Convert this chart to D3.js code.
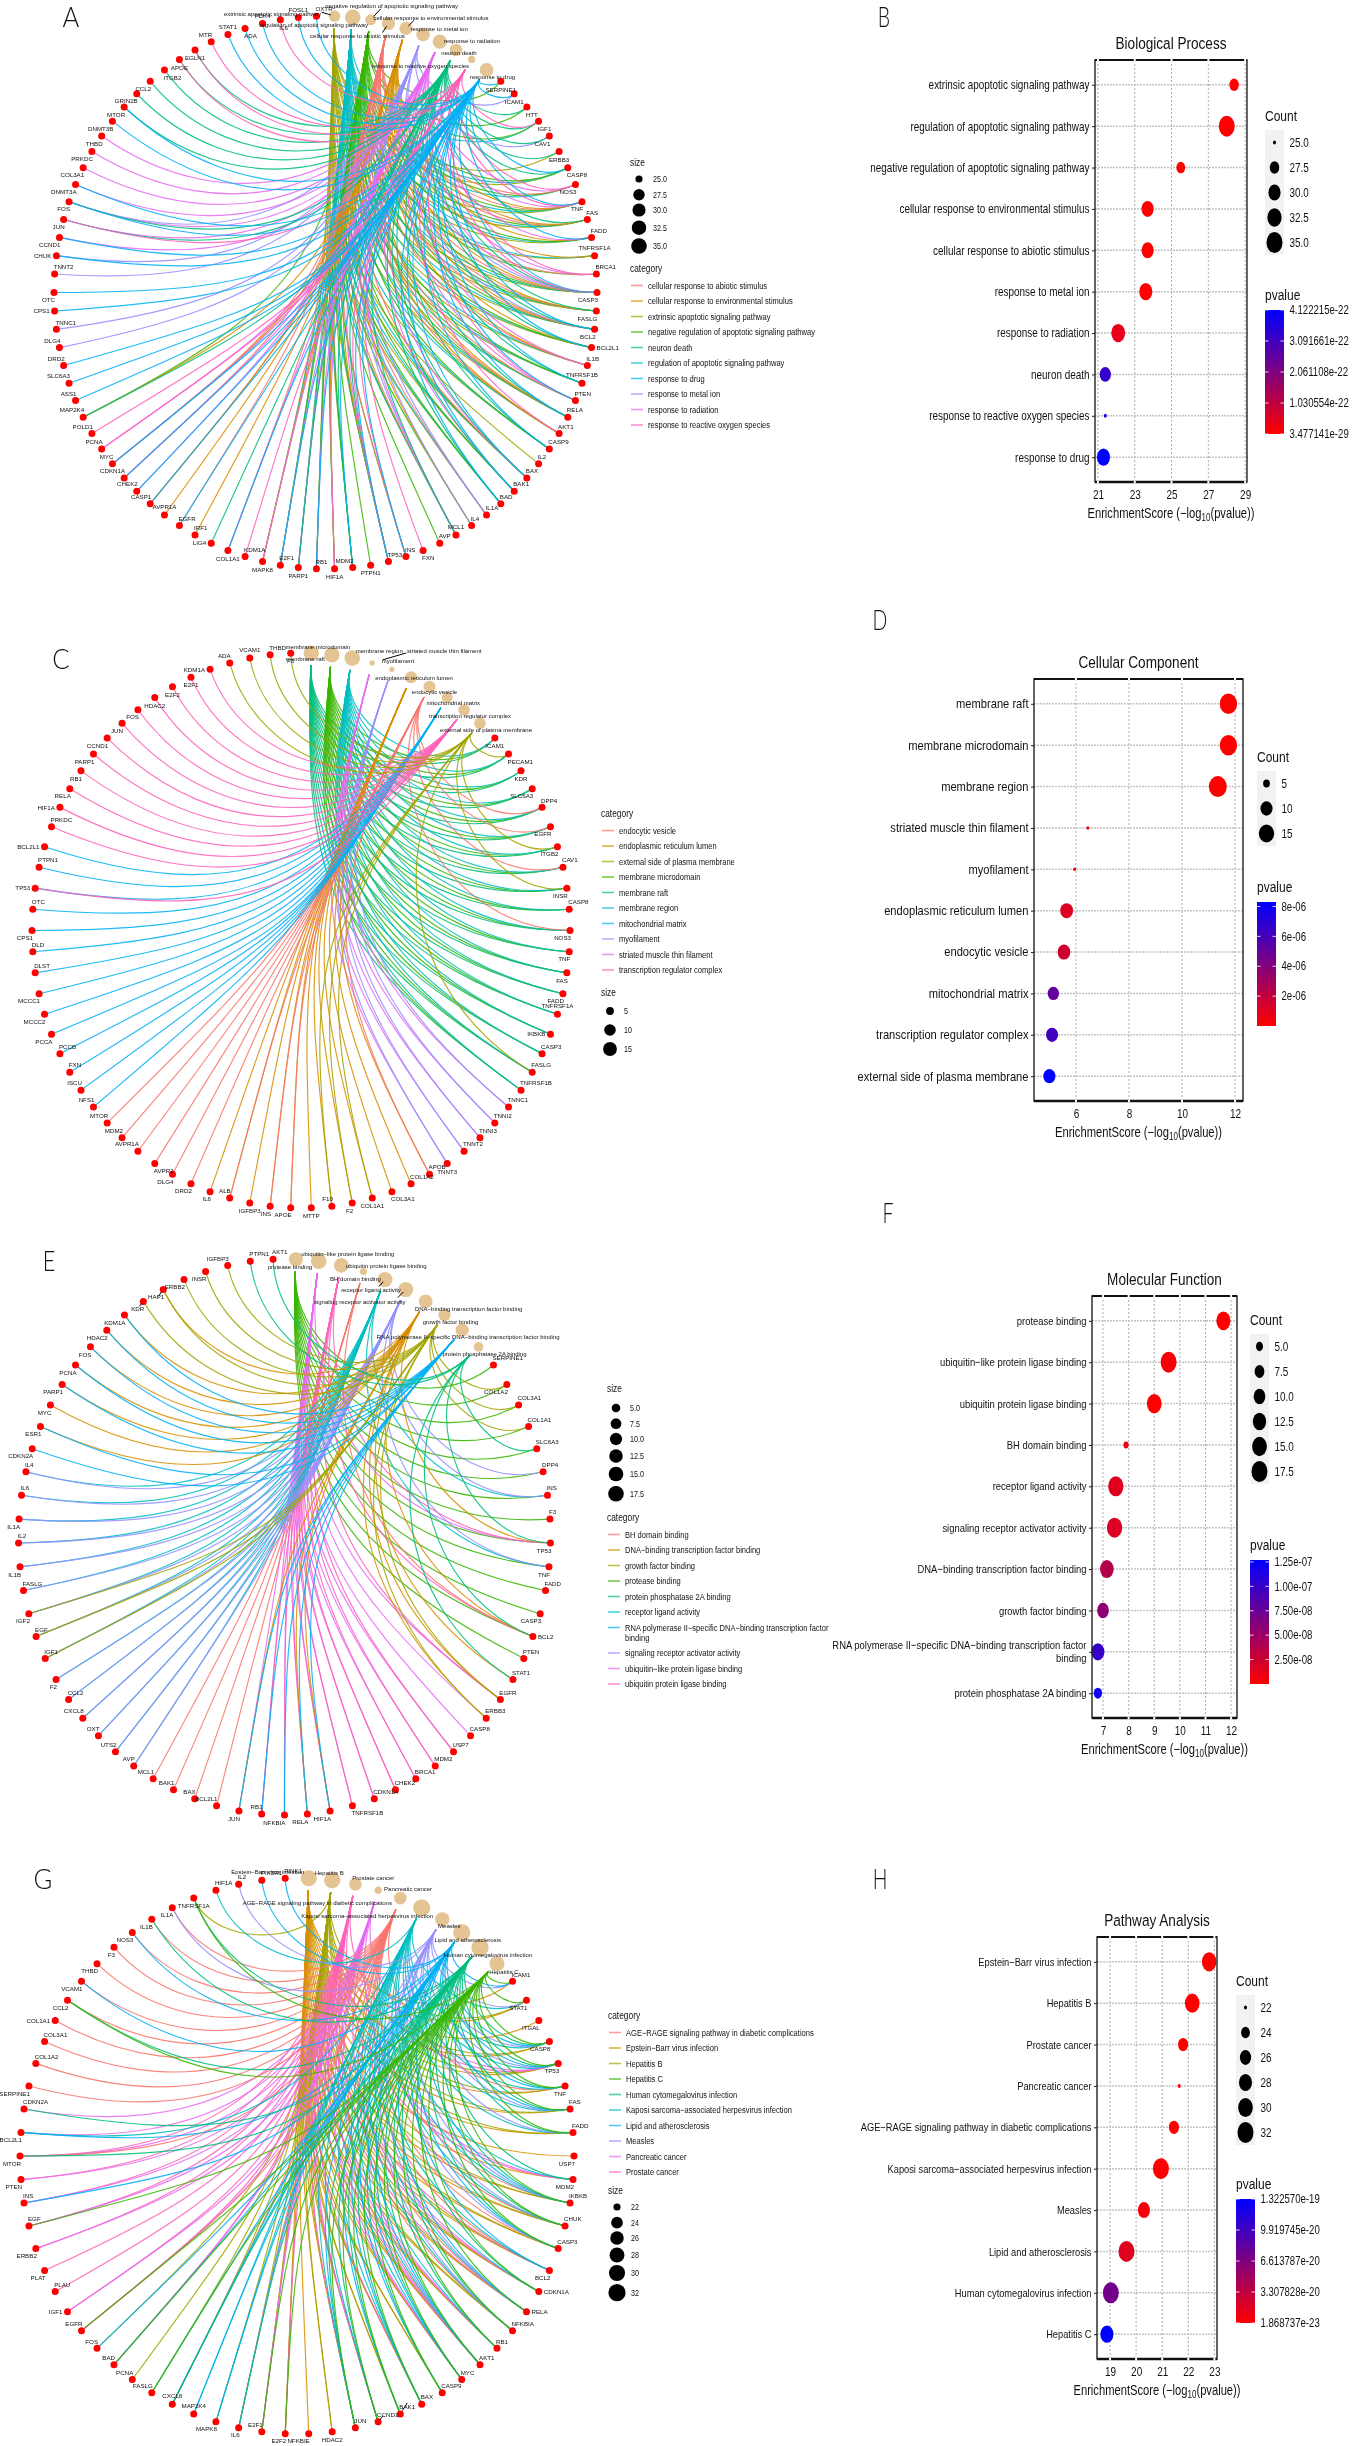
<!DOCTYPE html>
<html><head><meta charset="utf-8">
<script src="https://cdn.jsdelivr.net/npm/d3@7"></script>
<style>
html,body{margin:0;padding:0;background:#fff}
svg{display:block;filter:blur(.3px)}
text{font-family:"Liberation Sans",Arial,sans-serif;fill:#111}
</style></head><body>
<svg id="c" width="1356" height="2446"></svg>
<script>
// ---------- Panel A data ----------
const termsA=["extrinsic apoptotic signaling pathway","regulation of apoptotic signaling pathway","negative regulation of apoptotic signaling pathway","cellular response to abiotic stimulus","cellular response to environmental stimulus","response to metal ion","response to radiation","neuron death","response to reactive oxygen species","response to drug"];
const termHueA=[2,5,3,0,1,7,8,4,9,6];
const termCountA=[27.5,35,27,30,30,31,32,29,25,31];
const genesA=["SERPINE1","ICAM1","HTT","IGF1","CAV1","ERBB3","CASP8","NOS3","TNF","FAS","FADD","TNFRSF1A","BRCA1","CASP3","FASLG","BCL2","BCL2L1","IL1B","TNFRSF1B","PTEN","RELA","AKT1","CASP9","IL2","BAX","BAK1","BAD","IL1A","IL4","MCL1","AVP","FXN","INS","TP53","PTPN1","MDM2","HIF1A","RB1","PARP1","E2F1","MAPK8","KDM1A","COL1A1","LIG4","IRF1","EGFR","AVPR1A","CASP1","CHEK2","CDKN1A","MYC","PCNA","POLD1","MAP2K4","ASS1","SLC6A3","DRD2","DLG4","TNNC1","CPS1","OTC","TNNT2","CHUK","CCND1","JUN","FOS","DNMT3A","COL3A1","PRKDC","THBD","DNMT3B","MTOR","GRIN2B","CCL2","ITGB2","APOE","EGLN1","MTR","STAT1","ADA","PDK4","IL6","FOSL1","OXTR"];
const linksA=["29","59","27","1278","57","07","01279","12368","01234689","012347","012469","014","2368","0123456789","012347","01234579","012479","01346","01279","123689","0123479","12348","01279","0","0123679","012679","01279","0135","245","123567","2","8","2389","01246789","2","01279","12346","01269","12567","01269","01346","8","369","7","4","39","4","349","69","369","3469","68","8","247","9","9","9","5","5","9","9","5","59","69","678","5679","69","6","6","6","9","79","7","7","7","78","78","8","9","9","9","8","9","9"];
const dirsA=["xxcczxczze","ewezzzdewe","eeeeeeeeew","eceexqxexe","xexaeewqqq","qqqqqqqqea","zeazzzzzzz","zzzzcxxqwc","wcwe"].join("");
// ---------- Panel B data ----------
const categoriesB=["extrinsic apoptotic signaling pathway","regulation of apoptotic signaling pathway","negative regulation of apoptotic signaling pathway","cellular response to environmental stimulus","cellular response to abiotic stimulus","response to metal ion","response to radiation","neuron death","response to reactive oxygen species","response to drug"];
const enrichB=[28.4,28.0,25.5,23.7,23.7,23.6,22.1,21.4,21.4,21.3];
const countB=[27.5,35,27,30,30,31,32,29,25,31];
const pvalB=[3.5e-29,2e-28,1e-26,1e-25,1e-25,2e-25,4e-23,3.3e-22,3.8e-22,4.12e-22];
const sizeTicksB=[25,27.5,30,32.5,35];
const pTicksB=[[4.122215e-22,"4.122215e-22"],[3.091661e-22,"3.091661e-22"],[2.061108e-22,"2.061108e-22"],[1.030554e-22,"1.030554e-22"],[3.477141e-29,"3.477141e-29"]];
const xTicksB=[21,23,25,27,29];
// ---------- Panel C data ----------
const termsC=["membrane raft","membrane microdomain","membrane region","striated muscle thin filament","myofilament","endoplasmic reticulum lumen","endocytic vesicle","mitochondrial matrix","transcription regulator complex","external side of plasma membrane"];
const termHueC=[4,3,5,8,7,1,0,6,9,2];
const termCountC=[19,19,20,4,4,11,11,9,10,10];
const genesC=["ICAM1","PECAM1","KDR","SLC6A3","DPP4","EGFR","ITGB2","CAV1","INSR","CASP8","NOS3","TNF","FAS","FADD","TNFRSF1A","IKBKB","CASP3","FASLG","TNFRSF1B","TNNC1","TNNI2","TNNI3","TNNT2","TNNT3","APOB","COL1A2","COL3A1","COL1A1","F2","F10","MTTP","APOE","INS","IGFBP3","ALB","IL6","DRD2","DLG4","AVPR2","AVPR1A","MDM2","MTOR","NFS1","ISCU","FXN","PCCB","PCCA","MCCC2","MCCC1","DLST","DLD","CPS1","OTC","TP53","PTPN1","BCL2L1","PRKDC","HIF1A","RELA","RB1","PARP1","CCND1","JUN","FOS","HDAC2","E2F2","E2F1","KDM1A","ADA","VCAM1","THBD","F3"];
const linksC=["012","0129","012","012","0126","0126","0129","0126","0129","012","0126","012","012","012","012","012","012","0129","012","34","34","34","34","34","56","5","5","59","59","59","5","56","56","5","56","5","6","6","6","6","6","6","7","7","7","7","7","7","7","7","7","7","7","78","7","7","8","8","8","8","8","8","8","8","8","8","8","8","9","9","9","9"];
const dirsC=["xcxzezzeze","zzzzwaeeee","eeexeecxzq","xzzxqzzzcq","qqqqeezzze","ezeaeaeazz","zzzzxxxaqw","ex"].join("");
// ---------- Panel D data ----------
const categoriesD=termsC;
const enrichD=[11.75,11.75,11.35,6.45,5.95,5.65,5.55,5.15,5.1,5.0];
const pvalD=[1e-9,1e-9,3e-9,8e-8,2e-7,1.1e-6,1.6e-6,5e-6,6.2e-6,8.3e-6];
const sizeTicksD=[5,10,15];
const pTicksD=[[8e-6,"8e-06"],[6e-6,"6e-06"],[4e-6,"4e-06"],[2e-6,"2e-06"]];
const xTicksD=[6,8,10,12];
// ---------- Panel E data ----------
const termsE=["protease binding","ubiquitin\u2212like protein ligase binding","ubiquitin protein ligase binding","BH domain binding","receptor ligand activity","signaling receptor activator activity","DNA\u2212binding transcription factor binding","growth factor binding","RNA polymerase II\u2212specific DNA\u2212binding transcription factor binding","protein phosphatase 2A binding"];
const termHueE=[3,8,9,0,5,7,1,2,6,4];
const termCountE=[14,17.5,15,4,16,16,13,10,12,6];
const genesE=["SERPINE1","COL1A2","COL3A1","COL1A1","SLC6A3","DPP4","INS","F3","TP53","TNF","FADD","CASP3","BCL2","PTEN","STAT1","EGFR","ERBB3","CASP8","USP7","MDM2","BRCA1","CHEK2","CDKN1A","TNFRSF1B","HIF1A","RELA","NFKBIA","RB1","JUN","BCL2L1","BAX","BAK1","MCL1","AVP","UTS2","OXT","CXCL8","CCL2","F2","IGF1","EGF","IGF2","FASLG","IL1B","IL2","IL1A","IL6","IL4","CDKN2A","ESR1","MYC","PARP1","PCNA","FOS","HDAC2","KDM1A","KDR","HAP1","ERBB2","INSR","IGFBP3","PTPN1","AKT1"];
const linksE=["0","07","07","07","09","05","045","0","01269","045","0","0","02369","0","69","1267","167","1","12","12","12","12","12","12","1268","1268","128","128","168","3","3","3","3","45","45","45","45","45","45","457","457","457","45","45","45","45","45","45","8","68","6","68","68","68","68","68","7","67","7","7","7","9","9"];
const dirsE=["ezeeeeeezz","ezdeeeeeee","eeeczzzqzq","qqqqqqqeze","ezezezeezz","zzzzzzzzzz","qee"].join("");
// ---------- Panel F data ----------
const categoriesF=termsE;
const enrichF=[11.7,9.56,9.0,7.9,7.5,7.45,7.15,7.0,6.8,6.8];
const pvalF=[1e-12,4e-9,1e-9,1e-8,1.6e-8,1.8e-8,3.8e-8,5.7e-8,1e-7,1.2e-7];
const sizeTicksF=[5,7.5,10,12.5,15,17.5];
const pTicksF=[[1.25e-7,"1.25e-07"],[1e-7,"1.00e-07"],[7.5e-8,"7.50e-08"],[5e-8,"5.00e-08"],[2.5e-8,"2.50e-08"]];
const xTicksF=[7,8,9,10,11,12];
// ---------- Panel G data ----------
const termsG=["Epstein\u2212Barr virus infection","Hepatitis B","Prostate cancer","Pancreatic cancer","AGE\u2212RAGE signaling pathway in diabetic complications","Kaposi sarcoma\u2212associated herpesvirus infection","Measles","Lipid and atherosclerosis","Human cytomegalovirus infection","Hepatitis C"];
const termHueG=[1,2,9,8,0,5,7,6,4,3];
const termCountG=[30,30,25,22,25,32,27,32,32,28];
const genesG=["ICAM1","STAT1","ITGAL","CASP8","TP53","TNF","FAS","FADD","USP7","MDM2","IKBKB","CHUK","CASP3","BCL2","CDKN1A","RELA","NFKBIA","RB1","AKT1","MYC","CASP9","BAX","BAK1","CCND1","JUN","HDAC2","NFKBIE","E2F2","E2F1","IL6","MAPK8","MAP2K4","CXCL8","FASLG","PCNA","BAD","FOS","EGFR","IGF1","PLAU","PLAT","ERBB2","EGF","INS","PTEN","MTOR","BCL2L1","CDKN2A","SERPINE1","COL1A2","COL3A1","COL1A1","CCL2","VCAM1","THBD","F3","NOS3","IL1B","IL1A","TNFRSF1A","HIF1A","IL2","PIK3R1","PINK1"];
const linksG=["0679","01569","0","0156789","012356789","0145789","0156789","015689","0","02358","01456789","0145689","0146789","012457","0123589","01245679","0145689","0123589","0123456789","01235789","01789","0125789","01789","0123589","0125789","01","0","0129","01239","14568","157","57","14578","179","1","2379","17","2349","23","2","2","23","239","237","23","2348","357","38","4","4","4","4","489","47","4","4","47","48","46","189","5","6","7","7"];
const dirsG=["ezzzzzeezz","eeezddeeee","eeeeexzzqz","zwwqqqqqae","zzeezzzeze","eazzzzzzzx","eeee"].join("");
// ---------- Panel H data ----------
const categoriesH=termsG;
const enrichH=[22.8,22.15,21.8,21.65,21.45,20.95,20.3,19.63,19.03,18.88];
const pvalH=[1.9e-23,7e-23,1.6e-22,2.3e-22,3.6e-22,1.1e-21,5e-21,1.6e-20,7.3e-20,1.32e-19];
const sizeTicksH=[22,24,26,28,30,32];
const pTicksH=[[1.32257e-19,"1.322570e-19"],[9.919745e-20,"9.919745e-20"],[6.613787e-20,"6.613787e-20"],[3.307828e-20,"3.307828e-20"],[1.868737e-23,"1.868737e-23"]];
const xTicksH=[19,20,21,22,23];

// ---------- style and layout ----------
const hue=["#F8766D","#D89000","#A3A500","#39B600","#00BF7D","#00BFC4","#00B0F6","#9590FF","#E76BF3","#FF62BC"];
const svg=d3.select("#c");

function txt(g,x,y,s,o={}){
  const t=g.append("text").attr("transform",`translate(${x},${y}) scale(${o.sx||1},1)`)
    .attr("dy",".35em").attr("text-anchor",o.anchor||"start")
    .style("font-size",(o.size||9)+"px");
  if(o.family)t.style("font-family",o.family);
  if(o.weight)t.style("font-weight",o.weight);
  if(o.fill)t.style("fill",o.fill);
  t.text(s);return t;
}
function sizeScale(lo,hi,rmin,rmax){
  const s=d3.scaleSqrt().domain([0,hi-lo]).range([rmin,rmax]);
  return v=>s(Math.max(0,v-lo));
}
function wrapLabel(s){
  if(s.length<=60)return[s];
  const k=s.lastIndexOf(" ",60);return[s.slice(0,k),s.slice(k+1)];
}
const labelDir={
  q:["end",1,-7],e:["start",-1,-7],z:["end",1,7.5],c:["start",-1,7.5],
  w:["middle",0,-8],x:["middle",0,8],a:["end",-5,0],d:["start",5,0]};

function circlePanel(p){
  const g=svg.append("g");
  const n=p.terms.length+p.genes.length;
  const ang=d3.scaleLinear().domain([0,n]).range([0,2*Math.PI]);
  const X=i=>p.cx+p.rx*Math.sin(ang(i+.5)), Y=i=>p.cy-p.ry*Math.cos(ang(i+.5));
  const r=sizeScale(p.sizeLo,p.sizeHi,p.rMin,p.rMax);
  const links=[];
  p.genes.forEach((gn,k)=>{for(const c of p.links[k])links.push({t:+c,g:k+p.terms.length});});
  links.sort((a,b)=>a.t-b.t);
  g.append("g").attr("fill","none").attr("stroke-width",1.15).attr("stroke-opacity",.88)
   .selectAll("path").data(links).join("path")
   .attr("stroke",d=>hue[p.hue[d.t]])
   .attr("d",d=>{
     const x0=X(d.t),y0=Y(d.t),dd=Math.hypot(p.cx-x0,p.cy-y0);
     const sx=x0+(p.cx-x0)*12/dd, sy=y0+(p.cy-y0)*12/dd;
     const x3=X(d.g),y3=Y(d.g);
     let sep=Math.abs(ang(d.g)-ang(d.t)); if(sep>Math.PI)sep=2*Math.PI-sep;
     const a=Math.min(1,1.25*sep/Math.PI);
     const q=d3.path();q.moveTo(sx,sy);
     q.bezierCurveTo(sx+(p.cx-sx)*a,sy+(p.cy-sy)*a,x3+(p.cx-x3)*a,y3+(p.cy-y3)*a,x3,y3);
     return q.toString();
   });
  g.append("g").selectAll("circle").data(p.terms).join("circle")
   .attr("cx",(d,i)=>X(i)).attr("cy",(d,i)=>Y(i)).attr("r",(d,i)=>r(p.counts[i])).attr("fill","#E5C494");
  g.append("g").selectAll("circle").data(p.genes).join("circle")
   .attr("cx",(d,i)=>X(i+p.terms.length)).attr("cy",(d,i)=>Y(i+p.terms.length)).attr("r",3.5).attr("fill","#ff0000");
  (p.termConn||[]).forEach(c=>g.append("line").attr("x1",X(c[0])+c[1]*.3).attr("y1",Y(c[0])+c[2]*.3)
     .attr("x2",X(c[0])+c[1]).attr("y2",Y(c[0])+c[2]).attr("stroke","#000").attr("stroke-width",1));
  (p.geneConn||[]).forEach(c=>{const i=p.genes.indexOf(c[0])+p.terms.length;
     g.append("line").attr("x1",X(i)+c[1]*.3).attr("y1",Y(i)+c[2]*.3)
     .attr("x2",X(i)+c[1]).attr("y2",Y(i)+c[2]).attr("stroke","#000").attr("stroke-width",1);});
  p.genes.forEach((gn,k)=>{
    const [a,dx,dy]=labelDir[p.dirs[k]||"x"],i=k+p.terms.length;
    txt(g,X(i)+dx,Y(i)+dy,gn,{size:6.2,anchor:a});
  });
  p.terms.forEach((tn,i)=>{
    txt(g,X(i)+p.termLab[i][0],Y(i)+p.termLab[i][1],tn,{size:6,anchor:"middle"});
  });
  // legends
  const L=svg.append("g"),sxL=.84;
  const drawCat=(y0)=>{
    txt(L,p.lx,y0,"category",{size:10,sx:sxL});
    let y=y0+17.5;
    p.legendOrder.forEach(i=>{
      const lines=wrapLabel(p.terms[i]);
      L.append("line").attr("x1",p.lx+1).attr("x2",p.lx+13).attr("y1",y).attr("y2",y)
        .attr("stroke",hue[p.hue[i]]).attr("stroke-width",1.6).attr("stroke-opacity",.7);
      lines.forEach((s,k)=>txt(L,p.lx+18,y+k*10,s,{size:9,sx:sxL}));
      y+=15.5+(lines.length-1)*10;
    });
  };
  const drawSize=(y0)=>{
    txt(L,p.lx,y0,"size",{size:10,sx:sxL});
    p.sizeTicks.forEach((v,k)=>{
      const y=y0+p.sizeY[k];
      L.append("circle").attr("cx",p.lx+9).attr("cy",y).attr("r",r(v)).attr("fill","#000");
      txt(L,p.lx+23,y,p.sizeFmt(v),{size:8.5,sx:sxL});
    });
  };
  if(p.sizeFirst){drawSize(p.ly1);drawCat(p.ly2);}else{drawCat(p.ly1);drawSize(p.ly2);}
}

function dotPanel(p){
  const g=svg.append("g");
  const x=d3.scaleLinear().domain(p.xDomain).range([p.left,p.right]);
  const y=d3.scalePoint().domain(p.cats).range([p.top,p.bottom]).padding(.6);
  const ry=sizeScale(p.sizeLo,p.sizeHi,p.rMin,p.rMax);
  const col=d3.scaleLinear().domain([p.pLo,p.pHi]).range(["#ff0000","#0000ff"]);
  const SX=.8, LSX=p.labelSx||.8, KR=p.ratio||.76;
  g.append("g").selectAll("line").data(p.xTicks).join("line")
    .attr("x1",d=>x(d)).attr("x2",d=>x(d)).attr("y1",p.top).attr("y2",p.bottom)
    .attr("stroke","#999").attr("stroke-width",.8).attr("stroke-dasharray","2,2");
  g.append("g").selectAll("line").data(p.cats).join("line")
    .attr("x1",p.left).attr("x2",p.right).attr("y1",d=>y(d)).attr("y2",d=>y(d))
    .attr("stroke","#c4c4c4").attr("stroke-width",1.5).attr("stroke-dasharray","2,1");
  g.append("g").selectAll("ellipse").data(p.cats).join("ellipse")
    .attr("cx",(d,i)=>x(p.enrich[i])).attr("cy",d=>y(d))
    .attr("rx",(d,i)=>ry(p.size[i])*KR).attr("ry",(d,i)=>ry(p.size[i]))
    .attr("fill",(d,i)=>col(p.pval[i]));
  g.append("rect").attr("x",p.left).attr("y",p.top).attr("width",p.right-p.left).attr("height",p.bottom-p.top)
    .attr("fill","none").attr("stroke","#222").attr("stroke-width",1.4);
  g.append("line").attr("x1",p.left).attr("x2",p.right).attr("y1",p.bottom).attr("y2",p.bottom).attr("stroke","#111").attr("stroke-width",2.4);
  g.append("line").attr("x1",p.left).attr("x2",p.right).attr("y1",p.top).attr("y2",p.top).attr("stroke","#111").attr("stroke-width",2);
  g.append("g").selectAll("line").data(p.xTicks).join("line")
    .attr("x1",d=>x(d)-1).attr("x2",d=>x(d)+1).attr("y1",p.bottom).attr("y2",p.bottom).attr("stroke","#fff").attr("stroke-width",3);
  g.append("g").selectAll("line").data(p.xTicks).join("line")
    .attr("x1",d=>x(d)-1).attr("x2",d=>x(d)+1).attr("y1",p.top).attr("y2",p.top).attr("stroke","#fff").attr("stroke-width",3);
  // axes
  const ax=g.append("g").attr("transform",`translate(0,${p.bottom})`)
    .call(d3.axisBottom(x).tickValues(p.xTicks).tickFormat(d3.format("d")).tickSize(0).tickPadding(8));
  ax.select(".domain").remove();
  ax.selectAll("text").style("font-size","12.5px").attr("transform",`scale(${SX},1)`).style("fill","#111");
  const ay=g.append("g").attr("transform",`translate(${p.left},0)`)
    .call(d3.axisLeft(y).tickSize(3).tickPadding(3).tickFormat(""));
  ay.select(".domain").remove();
  ay.selectAll("line").attr("stroke","#222");
  p.cats.forEach(c=>{
    const lines=wrapLabel(c);
    lines.forEach((s,k)=>txt(g,p.left-5.5,y(c)+(k-(lines.length-1)/2)*13,s,{size:p.labelSize||12.4,anchor:"end",sx:LSX}));
  });
  const cx=(p.left+p.right)/2;
  txt(g,cx,p.top-17,p.title,{size:17,anchor:"middle",sx:SX});
  const at=g.append("text").attr("transform",`translate(${cx},${p.bottom+31}) scale(${SX},1)`)
    .attr("text-anchor","middle").attr("dy",".35em").style("font-size","14px");
  at.append("tspan").text("EnrichmentScore (\u2212log");
  at.append("tspan").text("10").attr("dy","3").style("font-size","10px");
  at.append("tspan").text("(pvalue))").attr("dy","-3");
  // Count legend
  const L=svg.append("g"),kx=p.lx,kw=19;
  txt(L,kx,p.countY,"Count",{size:15,sx:SX});
  L.append("rect").attr("x",kx).attr("y",p.countY+14).attr("width",kw)
    .attr("height",p.sizeTicks.length*25).attr("fill","#f2f2f2");
  p.sizeTicks.forEach((v,k)=>{
    const yy=p.countY+26.5+k*25;
    L.append("ellipse").attr("cx",kx+kw/2).attr("cy",yy).attr("rx",ry(v)*KR).attr("ry",ry(v)).attr("fill","#000");
    txt(L,kx+24.5,yy,p.sizeFmt(v),{size:12.4,sx:SX});
  });
  // pvalue bar
  const py=p.barY;
  txt(L,kx,py-15,"pvalue",{size:15,sx:SX});
  const gid="grad"+p.id;
  const lg=svg.append("defs").append("linearGradient").attr("id",gid).attr("x1",0).attr("x2",0).attr("y1",0).attr("y2",1);
  lg.append("stop").attr("offset","0%").attr("stop-color",col(p.pHi));
  lg.append("stop").attr("offset","100%").attr("stop-color",col(p.pLo));
  L.append("rect").attr("x",kx).attr("y",py).attr("width",kw).attr("height",124).attr("fill",`url(#${gid})`);
  const by=d3.scaleLinear().domain([p.pLo,p.pHi]).range([py+124,py]);
  p.pTicks.forEach(([v,s])=>{
    const yy=by(v);
    L.append("line").attr("x1",kx).attr("x2",kx+3.5).attr("y1",yy).attr("y2",yy).attr("stroke","#fff").attr("stroke-width",.8);
    L.append("line").attr("x1",kx+kw-3.5).attr("x2",kx+kw).attr("y1",yy).attr("y2",yy).attr("stroke","#fff").attr("stroke-width",.8);
    txt(L,kx+24.5,yy,s,{size:12,sx:SX});
  });
}

// ---------- build ----------
const f1=v=>v.toFixed(1), f0=v=>String(v);
circlePanel({terms:termsA,genes:genesA,links:linksA,dirs:dirsA,hue:termHueA,counts:termCountA,
  cx:325.5,cy:292.5,rx:271.5,ry:276.5,sizeLo:25,sizeHi:35,rMin:3.6,rMax:7.8,
  termLab:[[-62,-2],[-39,8],[21,-14],[-31,12],[25,-11],[16,-6],[32,-1],[3,3],[-51,6],[6,7]],
  termConn:[[0,-13,-4],[2,10,-11],[3,-6,9],[4,8,-8]],
  lx:630,sizeFirst:true,ly1:162,ly2:268,sizeTicks:sizeTicksB,sizeY:[17,32.7,48,65.7,84],sizeFmt:f1,
  legendOrder:[3,4,0,2,7,1,9,5,6,8]});
circlePanel({terms:termsC,genes:genesC,links:linksC,dirs:dirsC,hue:termHueC,counts:termCountC,
  cx:301,cy:930.5,rx:269,ry:277.5,sizeLo:4,sizeHi:20,rMin:2.6,rMax:7.8,
  termLab:[[-6,6],[-14,-8],[27,-7],[72,-12],[6,-8],[3,1],[5,5],[6,5],[6,6],[6,7]],
  termConn:[[3,34,-10]],
  lx:601,sizeFirst:false,ly1:813,ly2:992,sizeTicks:sizeTicksD,sizeY:[19,38,57],sizeFmt:f0,
  legendOrder:[6,5,9,1,0,2,7,4,3,8]});
circlePanel({terms:termsE,genes:genesE,links:linksE,dirs:dirsE,hue:termHueE,counts:termCountE,
  cx:284.5,cy:1537,rx:266,ry:278,sizeLo:3.5,sizeHi:17.5,rMin:2.6,rMax:7.8,
  termLab:[[-6,8],[29,-7],[45,0],[-8,7],[-14,10],[-46,12],[43,8],[6,7],[6,7],[6,7]],
  termConn:[[4,-6,7],[5,-8,8]],geneConn:[["KDR",-4,5],["HAP1",-5,7]],
  lx:607,sizeFirst:true,ly1:1388,ly2:1517,sizeTicks:sizeTicksF,sizeY:[20,35.7,51,68,86,105.7],sizeFmt:f1,
  legendOrder:[3,6,7,0,9,4,8,5,1,2]});
circlePanel({terms:termsG,genes:genesG,links:linksG,dirs:dirsG,hue:termHueG,counts:termCountG,
  cx:297,cy:2156,rx:277,ry:278,sizeLo:22,sizeHi:32,rMin:3.6,rMax:8.6,
  termLab:[[-41,-6],[-3,-7],[18,-6],[30,-1],[-83,5],[-54.5,8],[7,7],[6,7],[8,8],[7,8]],
  geneConn:[["BAK1",7,-11],["CCND1",5,-6]],
  lx:608,sizeFirst:false,ly1:2015,ly2:2190,sizeTicks:sizeTicksH,sizeY:[17,32.7,48,65,83,102.7],sizeFmt:f0,
  legendOrder:[4,0,1,9,8,5,7,6,3,2]});

dotPanel({id:"B",title:"Biological Process",cats:categoriesB,enrich:enrichB,pval:pvalB,size:countB,
  xTicks:xTicksB,xDomain:[20.84,29.1],left:1095,right:1247,top:60,bottom:482,
  sizeLo:25,sizeHi:35,rMin:2,rMax:10.5,pLo:3.477141e-29,pHi:4.122215e-22,
  lx:1265,countY:116,barY:310,sizeTicks:sizeTicksB,sizeFmt:f1,pTicks:pTicksB});
dotPanel({id:"D",title:"Cellular Component",cats:categoriesD,enrich:enrichD,pval:pvalD,size:termCountC,
  xTicks:xTicksD,xDomain:[4.42,12.3],left:1034,right:1243,top:679,bottom:1101,labelSx:.9,ratio:.85,
  sizeLo:4,sizeHi:20,rMin:1.8,rMax:10.5,pLo:0,pHi:8.3e-6,
  lx:1257,countY:757,barY:902,sizeTicks:sizeTicksD,sizeFmt:f0,pTicks:pTicksD});
dotPanel({id:"F",title:"Molecular Function",cats:categoriesF,enrich:enrichF,pval:pvalF,size:termCountE,
  xTicks:xTicksF,xDomain:[6.57,12.23],left:1092,right:1237,top:1296,bottom:1718,labelSize:11.8,
  sizeLo:3.5,sizeHi:17.5,rMin:1.8,rMax:10.5,pLo:0,pHi:1.27e-7,
  lx:1250,countY:1320,barY:1560,sizeTicks:sizeTicksF,sizeFmt:f1,pTicks:pTicksF});
dotPanel({id:"H",title:"Pathway Analysis",cats:categoriesH,enrich:enrichH,pval:pvalH,size:termCountG,
  xTicks:xTicksH,xDomain:[18.5,23.1],left:1097,right:1217,top:1937,bottom:2359,labelSize:11.6,
  sizeLo:22,sizeHi:32,rMin:2,rMax:10.5,pLo:1.868737e-23,pHi:1.32257e-19,
  lx:1236,countY:1981,barY:2199,sizeTicks:sizeTicksH,sizeFmt:f0,pTicks:pTicksH});

// panel letters
[["A",71,18,.95],["B",884,18,.72],["C",61,660,.95],["D",880,621,.72],["E",49,1262,.8],["F",888,1214,.72],["G",43,1880,.95],["H",880,1880,.72]]
 .forEach(([s,x,y,k])=>txt(svg,x,y,s,{size:27,anchor:"middle",sx:k,family:"Lato,sans-serif",weight:300}));
</script></body></html>
